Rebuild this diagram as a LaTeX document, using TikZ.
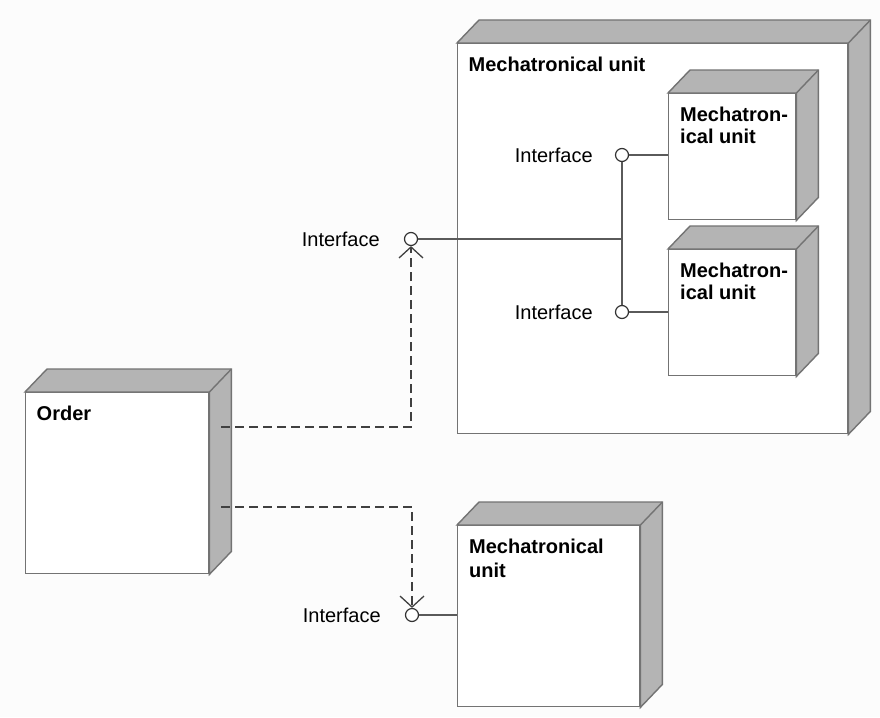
\documentclass[tikz,border=0pt]{standalone}
\usepackage{fontspec}
\setmainfont{Liberation Sans}
\usetikzlibrary{calc,arrows.meta}

\definecolor{bgcol}{HTML}{FCFCFC}
\definecolor{edgecol}{HTML}{737373}
\definecolor{shadecol}{HTML}{B4B4B4}
\definecolor{wirecol}{HTML}{5A5A5A}
\definecolor{dashcol}{HTML}{404040}

\tikzset{
  front/.style={draw=edgecol, fill=white, line width=1.4pt, rectangle,
    inner sep=0pt, anchor=north west},
  shade/.style={draw=edgecol, fill=shadecol, line width=1.4pt, line join=miter},
  title/.style={font=\fontsize{20}{22}\selectfont\bfseries, inner sep=0pt,
    align=left, anchor=north west},
  lbl/.style={font=\fontsize{20}{24}\selectfont, inner sep=0pt},
  socket/.style={circle, draw=black!80, fill=white, line width=1.2pt,
    minimum size=13pt, inner sep=0pt},
  wire/.style={draw=wirecol, line width=1.3pt},
  dep/.style={draw=dashcol, line width=1.5pt, dash pattern=on 9pt off 5pt,
    -{Straight Barb[length=11pt,width=24pt,line width=1.3pt]}},
}

% top and right faces of a 3D node box
\newcommand\boxfaces[1]{%
  \filldraw[shade] (#1.north west) -- ++(22,-23)
    -- ($(#1.north east)+(22,-23)$) -- ($(#1.south east)+(22,-23)$)
    -- (#1.south east) -- (#1.north east) -- cycle;
  \draw[edgecol, line width=1.4pt] (#1.north east) -- ++(22,-23);
}

\begin{document}
\begin{tikzpicture}[x=1pt, y=-1pt]
  \fill[bgcol] (0,0) rectangle (880,717);
  \useasboundingbox (0,0) rectangle (880,717);

  % outer mechatronical unit with its two sub-units
  \node[front, minimum width=390pt, minimum height=390pt] (big) at (457,43) {};
  \boxfaces{big}
  \node[title] (bigt) at ($(big.north west)+(11.5,14)$) {Mechatronical unit};

  \node[front, minimum width=127pt, minimum height=126pt] (sub1) at (668,93) {};
  \boxfaces{sub1}
  \node[title] (sub1t) at ($(sub1.north west)+(12,14)$) {Mechatron-\\ical unit};

  \node[front, minimum width=127pt, minimum height=126pt] (sub2) at (668,249) {};
  \boxfaces{sub2}
  \node[title] (sub2t) at ($(sub2.north west)+(12,14)$) {Mechatron-\\ical unit};

  % order node
  \node[front, minimum width=183pt, minimum height=181pt] (order) at (25,392) {};
  \boxfaces{order}
  \node[title] (ordert) at ($(order.north west)+(11.5,14)$) {Order};

  % lower mechatronical unit
  \node[front, minimum width=182pt, minimum height=181pt] (low) at (457,525) {};
  \boxfaces{low}
  \node[title, font=\fontsize{20}{24}\selectfont\bfseries] (lowt)
    at ($(low.north west)+(12,14)$) {Mechatronical\\unit};

  % interfaces
  \node[socket] (ifa) at (411,239) {};
  \node[socket] (ifb) at (622,155) {};
  \node[socket] (ifc) at (622,312) {};
  \node[socket] (ifd) at (412,615) {};
  \coordinate (hub) at (622,239);

  \node[lbl, anchor=east] (la) at ($(ifa.west)+(-24,0)$) {Interface};
  \node[lbl, anchor=east] (lb) at ($(ifb.west)+(-22,0)$) {Interface};
  \node[lbl, anchor=east] (lc) at ($(ifc.west)+(-22,0)$) {Interface};
  \node[lbl, anchor=east] (ld) at ($(ifd.west)+(-24,0)$) {Interface};

  \draw[wire] (ifa) -- (hub);
  \draw[wire] (ifb) -- (ifc);
  \draw[wire] (ifb) -- (ifb -| sub1.west);
  \draw[wire] (ifc) -- (ifc -| sub2.west);
  \draw[wire] (ifd) -- (ifd -| low.west);

  % dependencies from the order
  \coordinate (oa) at (221,427);
  \coordinate (ob) at (221,507);
  \draw[dep] (oa) -- (oa -| ifa) -- (ifa);
  \draw[dep] (ob) -- (ob -| ifd) -- (ifd);
\end{tikzpicture}
\end{document}
